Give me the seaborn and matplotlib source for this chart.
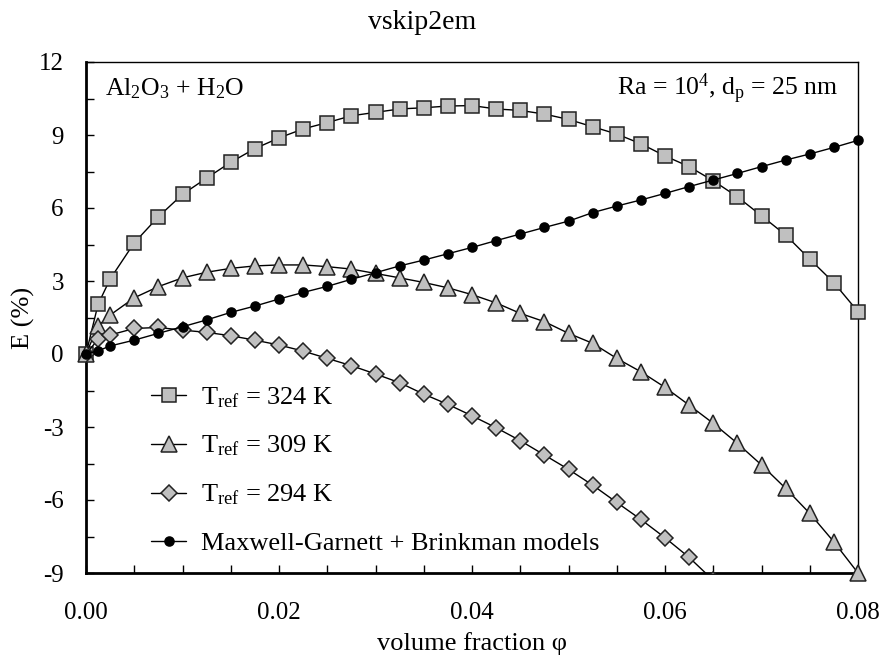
import matplotlib
matplotlib.use("Agg")
import matplotlib.pyplot as plt
import seaborn as sns
import pandas as pd
import numpy as np

phi = [0.0, 0.00125, 0.0025, 0.005, 0.0075, 0.01, 0.0125, 0.015, 0.0175, 0.02,
       0.0225, 0.025, 0.0275, 0.03, 0.0325, 0.035, 0.0375, 0.04, 0.0425, 0.045,
       0.0475, 0.05, 0.0525, 0.055, 0.0575, 0.06, 0.0625, 0.065, 0.0675, 0.07,
       0.0725, 0.075, 0.0775, 0.08]

E_324 = [0, 2.04, 3.08, 4.57, 5.64, 6.56, 7.23, 7.88, 8.44, 8.88, 9.25, 9.51, 9.79,
         9.93, 10.07, 10.12, 10.19, 10.21, 10.07, 10.01, 9.86, 9.64, 9.34, 9.04,
         8.64, 8.14, 7.70, 7.12, 6.46, 5.68, 4.89, 3.90, 2.93, 1.74]
E_309 = [0, 1.15, 1.60, 2.31, 2.77, 3.13, 3.36, 3.52, 3.62, 3.66, 3.66, 3.59, 3.49,
         3.31, 3.13, 2.94, 2.72, 2.44, 2.10, 1.67, 1.33, 0.85, 0.44, -0.18, -0.73,
         -1.37, -2.10, -2.85, -3.67, -4.56, -5.52, -6.55, -7.72, -9.0]
E_294 = [0, 0.60, 0.78, 1.05, 1.09, 0.98, 0.89, 0.75, 0.57, 0.37, 0.12, -0.18, -0.48,
         -0.82, -1.18, -1.65, -2.07, -2.54, -3.03, -3.56, -4.15, -4.74, -5.39, -6.10,
         -6.80, -7.55, -8.36, -9.30]
E_mg = [0, 0.13, 0.33, 0.57, 0.85, 1.12, 1.40, 1.71, 1.97, 2.26, 2.53, 2.78, 3.07,
        3.34, 3.62, 3.86, 4.12, 4.38, 4.66, 4.93, 5.20, 5.46, 5.81, 6.08, 6.33, 6.60,
        6.88, 7.15, 7.42, 7.70, 7.97, 8.22, 8.49, 8.78]

labels = [r"T$_{\mathrm{ref}}$ = 324 K", r"T$_{\mathrm{ref}}$ = 309 K",
          r"T$_{\mathrm{ref}}$ = 294 K", "Maxwell-Garnett + Brinkman models"]
xticks = [0.00, 0.02, 0.04, 0.06, 0.08]
yticks = [-9, -6, -3, 0, 3, 6, 9, 12]

sns.set_theme(style="ticks")
plt.rcParams['font.family'] = ['Liberation Serif', 'DejaVu Serif']
plt.rcParams['mathtext.fontset'] = 'custom'
plt.rcParams['mathtext.rm'] = 'Liberation Serif'
plt.rcParams['mathtext.it'] = 'Liberation Serif:italic'

W, H = 885, 660
fig = plt.figure(figsize=(8.85, 6.6), dpi=100)
ax = fig.add_axes([86 / W, 1 - 573 / H, (858 - 86) / W, (573 - 62) / H])

gray = '#c0c0c0'
edge = '#222222'
series = [
    (phi, E_324, 's', 10, gray, False),
    (phi, E_309, '^', 11, gray, False),
    (phi[:len(E_294)], E_294, 'D', 8, gray, True),
    (phi, E_mg, 'o', 6.5, 'black', False),
]
for (x, y, m, ms, fc, clip), lab in zip(series, labels):
    df = pd.DataFrame({'phi': x, 'E': y})
    sns.lineplot(data=df, x='phi', y='E', ax=ax, color='black', lw=1.0,
                 marker=m, markersize=ms, markerfacecolor=fc,
                 markeredgecolor=edge if fc != 'black' else 'black',
                 markeredgewidth=1.1, label=lab, clip_on=clip, zorder=3)

ax.set_xlim(0, 0.08)
ax.set_ylim(-9, 12)
ax.set_xticks(xticks)
ax.set_xticklabels([f"{v:.2f}" for v in xticks])
ax.set_yticks(yticks)
ax.set_yticklabels([str(v) for v in yticks])
ax.set_xticks(np.arange(0, 0.0801, 0.005), minor=True)
ax.set_yticks(np.arange(-9, 12.01, 1.5), minor=True)
ax.tick_params(which='both', direction='in', length=6, width=1.0, labelsize=18,
               color='black', labelcolor='black')
ax.tick_params(axis='x', which='both', pad=21)
ax.tick_params(axis='y', which='both', pad=16)
for s in ['left', 'bottom']:
    ax.spines[s].set_linewidth(2.0)
for s in ['top', 'right']:
    ax.spines[s].set_linewidth(1.0)
for s in ax.spines.values():
    s.set_color('black')

ax.set_xlabel("volume fraction φ", fontsize=19, labelpad=6, color='black')
ax.set_ylabel("E (%)", fontsize=19, labelpad=3, color='black')
fig.text(422 / W, 1 - 29 / H, "vskip2em", fontsize=20, ha='center', va='baseline',
         color='black')

ax.text((105 - 86) / 772, (573 - 95) / 511, r"Al$_2$O$_3$ + H$_2$O",
        transform=ax.transAxes, fontsize=18.5, ha='left', va='baseline', color='black')
ax.text((838 - 86) / 772, (573 - 95) / 511, r"Ra = 10$^4$, d$_\mathrm{p}$ = 25 nm",
        transform=ax.transAxes, fontsize=18.5, ha='right', va='baseline', color='black')

leg = ax.legend(loc='upper left', bbox_to_anchor=((151 - 86) / 772, (573 - 385) / 511),
                frameon=False, borderaxespad=0, borderpad=0,
                fontsize=19, handlelength=1.33, handletextpad=0.55, labelspacing=0.92)
for t in leg.get_texts():
    t.set_color('black')

fig.savefig("out.png", dpi=100)
